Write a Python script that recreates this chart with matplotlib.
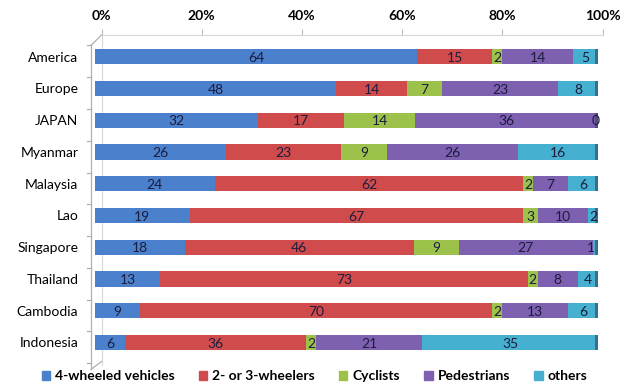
import matplotlib.pyplot as plt
import numpy as np
from matplotlib.patches import Patch

plt.rcParams['font.family'] = ['Lato', 'DejaVu Sans']

countries = ['America', 'Europe', 'JAPAN', 'Myanmar', 'Malaysia', 'Lao',
             'Singapore', 'Thailand', 'Cambodia', 'Indonesia']
four_wheel = [64, 48, 32, 26, 24, 19, 18, 13, 9, 6]
two_three = [15, 14, 17, 23, 62, 67, 46, 73, 70, 36]
cyclists = [2, 7, 14, 9, 2, 3, 9, 2, 2, 2]
pedestrians = [14, 23, 36, 26, 7, 10, 27, 8, 13, 21]
others = [5, 8, 0, 16, 6, 2, 1, 4, 6, 35]

series_names = ['4-wheeled vehicles', '2- or 3-wheelers', 'Cyclists', 'Pedestrians', 'others']
colors = ['#4a80cc', '#d04b4b', '#9cc24c', '#7d60b0', '#45b0d0']
ticks = [0, 20, 40, 60, 80, 100]

data = np.array([four_wheel, two_three, cyclists, pedestrians, others], dtype=float)
pct = data / data.sum(axis=0) * 100  # 100% stacked

W, H = 629, 382
fig = plt.figure(figsize=(6.29, 3.82), dpi=100)

# back wall: ticks and frame
back = fig.add_axes([101.5 / W, 1 - 365 / H, 501 / W, 330 / H])
back.set_xlim(0, 100)
back.set_ylim(0, 1)
back.xaxis.tick_top()
back.set_xticks(ticks)
back.set_xticklabels(['{}%'.format(t) for t in ticks], fontsize=10, fontweight='bold')
back.tick_params(axis='x', length=4, color='#bbbbbb', pad=5)
back.set_yticks([])
for s in ['right', 'bottom']:
    back.spines[s].set_visible(False)
back.spines['top'].set_color('#d8d8d8')
back.spines['left'].set_color('#d8d8d8')

# front plane: bars
ax = fig.add_axes([95 / W, 1 - 372 / H, 503 / W, 337 / H])
ax.patch.set_visible(False)
y = np.arange(len(countries))
left = np.zeros(len(countries))
for i in range(len(series_names)):
    ax.barh(y, pct[i], left=left, height=0.48, color=colors[i], linewidth=0)
    for j in range(len(countries)):
        cx = left[j] + pct[i][j] / 2
        if pct[i][j] < 1:
            cx = left[j] - 0.4
        ax.text(cx, y[j] + 0.04, str(int(data[i][j])), ha='center', va='center',
                fontsize=10, color='#1c1c3c')
    left += pct[i]

# darker right end of each bar (3D cap look)
ax.barh(y, 0.5, left=left - 0.5, height=0.48, color='#2a3a5a', alpha=0.55, linewidth=0)

ax.set_xlim(0, 100)
ax.set_ylim(9.93, -0.68)
ax.set_yticks(y)
ax.set_yticklabels(countries, fontsize=10)
ax.tick_params(axis='y', length=0, pad=12)
ax.set_xticks([])
for s in ax.spines.values():
    s.set_visible(False)

# left wall of the 3D frame
wall_x = -0.8
ax.plot([wall_x, wall_x], [-0.35, 9.85], color='#b0b0b0', lw=0.9, clip_on=False)
ax.plot([wall_x, 1.3], [-0.35, -0.68], color='#b0b0b0', lw=0.9, clip_on=False)
ax.plot([wall_x, 1.3], [9.85, 9.6], color='#b0b0b0', lw=0.9, clip_on=False)
for b in np.arange(-0.5, 10, 1.0):
    ax.plot([wall_x - 0.7, wall_x], [b + 0.15, b + 0.15], color='#b0b0b0', lw=0.9, clip_on=False)

handles = [Patch(color=c) for c in colors]
fig.legend(handles, series_names, loc='center', bbox_to_anchor=(0.5, 1 - 376 / H),
           ncol=5, frameon=False, handlelength=0.6, handleheight=0.6, handletextpad=0.35,
           columnspacing=1.75, prop={'size': 10, 'weight': 'bold'}, borderpad=0)

fig.savefig('out.png', dpi=100)
